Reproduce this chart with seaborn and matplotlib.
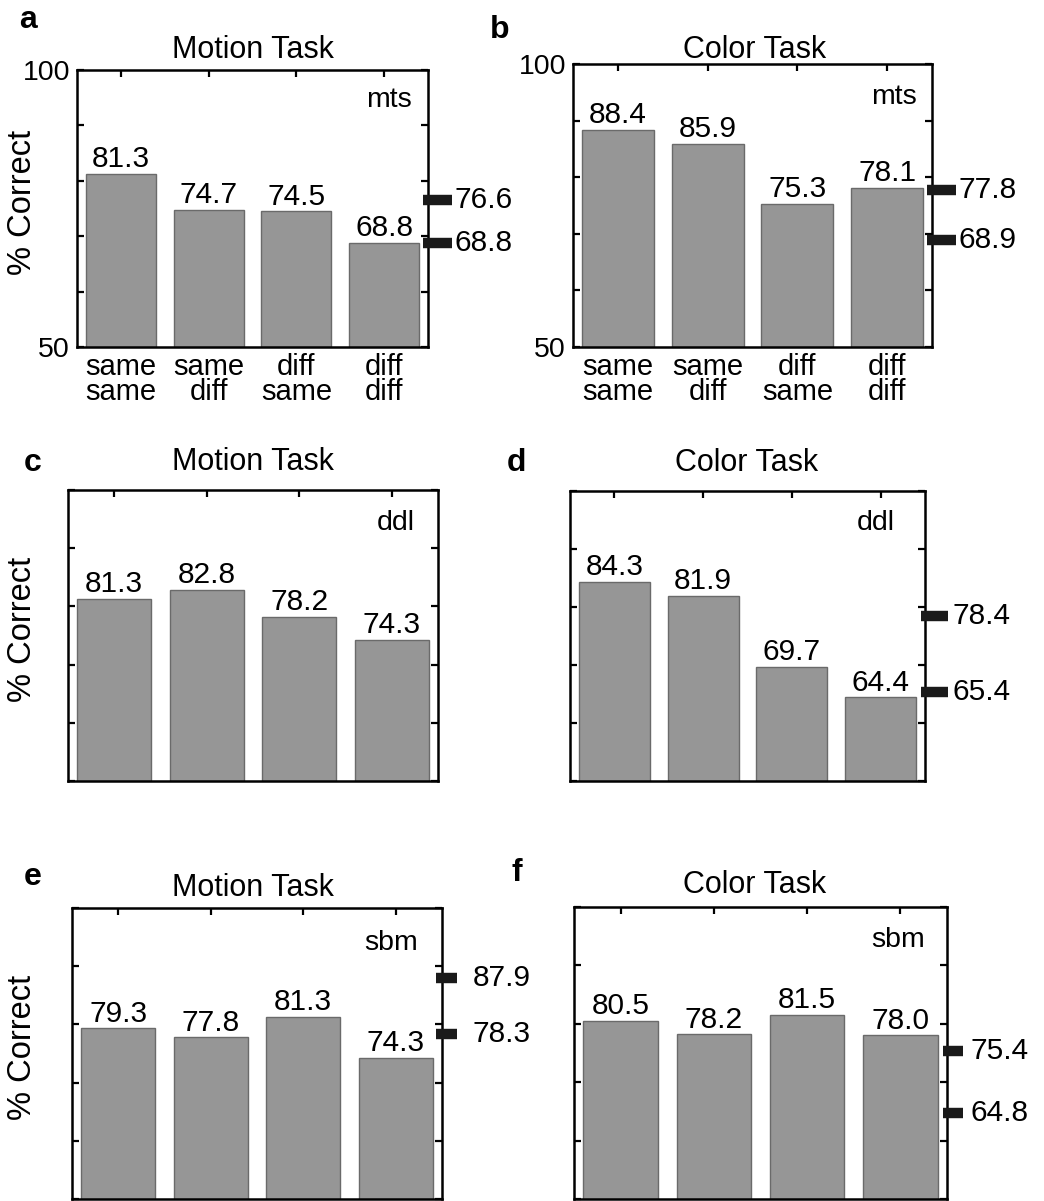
import matplotlib
matplotlib.use("Agg")
import matplotlib.pyplot as plt
import matplotlib.transforms as mtransforms
import seaborn as sns
import pandas as pd

# ---------------- data ----------------
conditions = ["same\nsame", "same\ndiff", "diff\nsame", "diff\ndiff"]

mts_motion = [81.3, 74.7, 74.5, 68.8]
mts_motion_ref = [76.6, 68.8]
mts_color = [88.4, 85.9, 75.3, 78.1]
mts_color_ref = [77.8, 68.9]
ddl_motion = [81.3, 82.8, 78.2, 74.3]
ddl_motion_ref = []
ddl_color = [84.3, 81.9, 69.7, 64.4]
ddl_color_ref = [78.4, 65.4]
sbm_motion = [79.3, 77.8, 81.3, 74.3]
sbm_motion_ref = [87.9, 78.3]
sbm_color = [80.5, 78.2, 81.5, 78.0]
sbm_color_ref = [75.4, 64.8]

y_ticks = [50, 60, 70, 80, 90, 100]
y_ticklabels = ["50", "", "", "", "", "100"]

# ---------------- style ----------------
sns.set_theme(style="white")
plt.rcParams['font.family'] = ['Liberation Sans', 'DejaVu Sans']

W, H = 1044, 1201
fig = plt.figure(figsize=(W / 100, H / 100), dpi=100)


def fx(x):
    return x / W


def fy(y):
    return 1 - y / H


BAR_COLOR = "#969696"
EDGE_COLOR = "#6a6a6a"
FS_VAL = 21.5
FS_TITLE = 22
FS_TICK = 20.5
FS_XT = 21

# layout in pixels: box (l, t, r, b), letter xy, title xy, tag xy (right edge),
# marker x range, marker label x
panels = [
    dict(letter="a", title="Motion Task", tag="mts", vals=mts_motion, refs=mts_motion_ref,
         box=(77, 70, 428, 347), lxy=(28, 20), txy=(253, 50), gxy=(412, 100),
         mk=(423, 452), mlx=455, xlabels=True, ylabels=True, ylabel=True),
    dict(letter="b", title="Color Task", tag="mts", vals=mts_color, refs=mts_color_ref,
         box=(573, 64, 932, 347), lxy=(500, 30), txy=(755, 50), gxy=(917, 97),
         mk=(927, 956), mlx=959, xlabels=True, ylabels=True, ylabel=False),
    dict(letter="c", title="Motion Task", tag="ddl", vals=ddl_motion, refs=ddl_motion_ref,
         box=(68, 490, 438, 781), lxy=(33, 463), txy=(253, 462), gxy=(415, 523),
         mk=(433, 460), mlx=465, xlabels=False, ylabels=False, ylabel=True),
    dict(letter="d", title="Color Task", tag="ddl", vals=ddl_color, refs=ddl_color_ref,
         box=(570, 491, 925, 781), lxy=(516, 463), txy=(747, 463), gxy=(895, 523),
         mk=(921, 948), mlx=953, xlabels=False, ylabels=False, ylabel=False),
    dict(letter="e", title="Motion Task", tag="sbm", vals=sbm_motion, refs=sbm_motion_ref,
         box=(72, 908, 442, 1199), lxy=(33, 877), txy=(253, 888), gxy=(418, 943),
         mk=(436, 457), mlx=473, xlabels=False, ylabels=False, ylabel=True),
    dict(letter="f", title="Color Task", tag="sbm", vals=sbm_color, refs=sbm_color_ref,
         box=(574, 907, 947, 1199), lxy=(517, 873), txy=(755, 885), gxy=(925, 940),
         mk=(943, 963), mlx=970, xlabels=False, ylabels=False, ylabel=False),
]

for p in panels:
    l, t, r, b = p["box"]
    ax = fig.add_axes([fx(l), fy(b), (r - l) / W, (b - t) / H])
    df = pd.DataFrame({"cond": conditions, "pc": p["vals"]})
    sns.barplot(data=df, x="cond", y="pc", color=BAR_COLOR, saturation=1,
                edgecolor=EDGE_COLOR, linewidth=1.0, width=0.8, ax=ax)
    ax.set_xlim(-0.5, 3.5)
    ax.set_ylim(50, 100)
    ax.set_xlabel("")
    ax.set_ylabel("")
    ax.set_axisbelow(True)

    for s in ax.spines.values():
        s.set_visible(True)
        s.set_color("black")
        s.set_linewidth(1.8)

    ax.tick_params(direction="in", length=5, width=1.6, top=True, right=True,
                   left=True, bottom=True, colors="black",
                   labeltop=False, labelright=False)
    ax.set_yticks(y_ticks)
    if p["ylabels"]:
        ax.set_yticklabels(y_ticklabels, fontsize=FS_TICK)
        ax.tick_params(axis="y", pad=5)
    else:
        ax.set_yticklabels([])
    ax.set_xticks(range(len(conditions)))
    if p["xlabels"]:
        ax.set_xticklabels(conditions, fontsize=FS_XT, linespacing=0.88)
        ax.tick_params(axis="x", pad=4)
    else:
        ax.set_xticklabels([])

    # value labels above bars
    for i, v in enumerate(p["vals"]):
        ax.annotate(f"{v:.1f}", (i, v), xytext=(0, 0.5), textcoords="offset points",
                    ha="center", va="bottom", fontsize=FS_VAL, color="black")

    # reference markers outside the right axis
    trans = mtransforms.blended_transform_factory(ax.transAxes, ax.transData)
    x0 = (p["mk"][0] - l) / (r - l)
    x1 = (p["mk"][1] - l) / (r - l)
    xl = (p["mlx"] - l) / (r - l)
    for v in p["refs"]:
        ax.plot([x0, x1], [v, v], transform=trans, color="#1a1a1a", lw=7.5,
                solid_capstyle="butt", clip_on=False, zorder=5)
        ax.text(xl, v, f"{v:.1f}", transform=trans, ha="left", va="center",
                fontsize=FS_VAL, color="black", clip_on=False)

    # tag text
    fig.text(fx(p["gxy"][0]), fy(p["gxy"][1]), p["tag"], ha="right", va="center",
             fontsize=20.5, color="black")
    # title
    fig.text(fx(p["txy"][0]), fy(p["txy"][1]), p["title"], ha="center", va="center",
             fontsize=FS_TITLE, color="black")
    # panel letter
    fig.text(fx(p["lxy"][0]), fy(p["lxy"][1]), p["letter"], ha="center", va="center",
             fontsize=23, fontweight="bold", color="black")
    # y axis label
    if p["ylabel"]:
        fig.text(fx(23), fy((t + b) / 2 - 6), "% Correct", rotation=90,
                 ha="center", va="center", fontsize=23.5, color="black")

fig.savefig("out.png", dpi=100, facecolor="white")
